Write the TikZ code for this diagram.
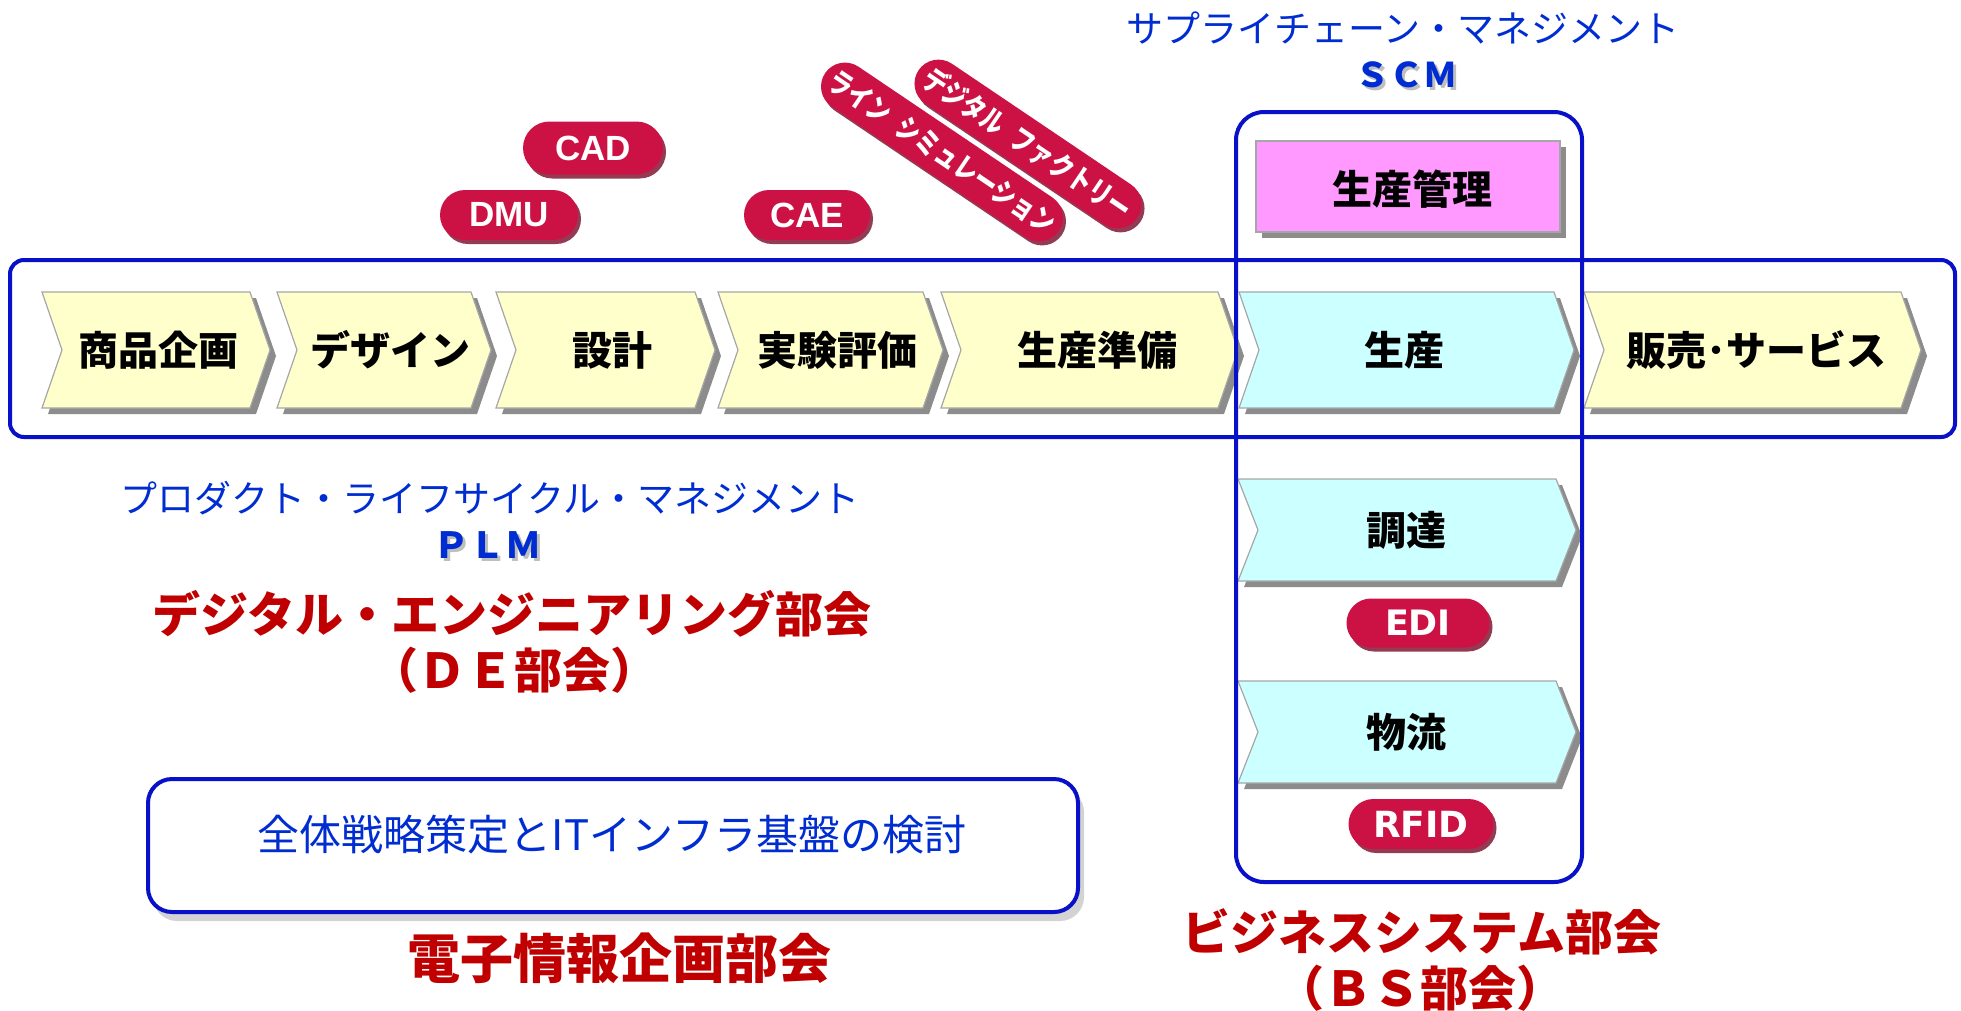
\documentclass[tikz,border=0pt]{standalone}
\usepackage{fontspec}
\usetikzlibrary{shapes.misc}
\newfontfamily\jp{Noto Sans CJK JP}
\newfontfamily\jpn[FakeStretch=0.8]{Noto Sans CJK JP}
\newfontfamily\lat{Liberation Sans}
\newfontfamily\dv{DejaVu Sans}
\definecolor{chevy}{HTML}{FFFFCC}
\definecolor{chevc}{HTML}{CCFFFF}
\definecolor{pinkbox}{HTML}{FF99FF}
\definecolor{frameblue}{RGB}{8,16,200}
\definecolor{txtblue}{RGB}{0,45,210}
\definecolor{hdrred}{RGB}{192,0,0}
\definecolor{pillred}{RGB}{204,18,68}
\definecolor{pillshade}{RGB}{120,10,40}
\newcommand\fs[1]{\fontsize{#1}{#1}\selectfont}
\tikzset{
 chevbox/.style={draw=gray!70, line width=1.2pt},
 chevshadow/.style={fill=gray!90},
 chevtext/.style={font=\jp\bfseries\fs{40}, inner sep=0pt},
 frame/.style={draw=frameblue, line width=4pt},
 pillbody/.style={rounded rectangle, fill=pillred, text=white, inner sep=0pt},
 pillshadow/.style={rounded rectangle, fill=pillshade, inner sep=0pt, opacity=0.8},
 bluetxt/.style={text=txtblue, inner sep=0pt, font=\jp\fs{37}},
 redtxt/.style={text=hdrred, inner sep=0pt, font=\jp\bfseries\fs{48}},
}
\newcommand\mychev[8]{%
 \pgfmathsetmacro\cym{(#4+#5)/2}%
 \pgfmathsetmacro\cxa{#2+20}%
 \pgfmathsetmacro\cxb{#3+20}%
 \fill[chevshadow, shift={(6,6)}] (#2,#4) -- (#3,#4) -- (\cxb,\cym) -- (#3,#5) -- (#2,#5) -- (\cxa,\cym) -- cycle;
 \filldraw[chevbox, fill=#6] (#2,#4) -- (#3,#4) -- (\cxb,\cym) -- (#3,#5) -- (#2,#5) -- (\cxa,\cym) -- cycle;
 \node[chevtext] (#1) at (#7,\cym) {#8};
}
\newcommand\mypill[8]{%
 \node[pillshadow, minimum width=#4pt, minimum height=#5pt, rotate=#6] at (#2+3,#3+4) {};
 \node[pillbody, minimum width=#4pt, minimum height=#5pt, rotate=#6, font=#7] (#1) at (#2,#3) {#8};
}
\begin{document}
\begin{tikzpicture}[x=1pt,y=-1pt]
\useasboundingbox (0,0) rectangle (1961,1010);
% chevron row
\mychev{c1}{42}{250}{292}{408}{chevy}{158}{商品企画}
\mychev{c2}{277}{471}{292}{408}{chevy}{390}{デザイン}
\mychev{c3}{496}{695}{292}{408}{chevy}{612}{設計}
\mychev{c4}{718}{923}{292}{408}{chevy}{837}{実験評価}
\mychev{c5}{941}{1218}{292}{408}{chevy}{1097}{生産準備}
\mychev{c6}{1239}{1554}{292}{408}{chevc}{1404}{生産}
\mychev{c7}{1584}{1901}{292}{408}{chevy}{1756}{販売･サービス}
\mychev{c8}{1238}{1556}{479}{581}{chevc}{1406}{調達}
\mychev{c9}{1238}{1556}{681}{783}{chevc}{1406}{物流}
% production management box
\fill[chevshadow] (1262,147) rectangle (1566,238);
\filldraw[chevbox, fill=pinkbox] (1256,141) rectangle (1560,232);
\node[chevtext] (kanri) at (1412,189) {生産管理};
% frames
\draw[frame, rounded corners=14pt] (10,260) rectangle (1955,437);
\draw[frame, rounded corners=28pt] (1236,112) rectangle (1582,882);
% pills
\mypill{cad}{593}{148}{140}{53}{0}{\lat\bfseries\fs{35}}{CAD}
\mypill{dmu}{509}{215}{138}{50}{0}{\lat\bfseries\fs{35}}{DMU}
\mypill{cae}{807}{215}{126}{50}{0}{\lat\bfseries\fs{35}}{CAE}
\mypill{edi}{1418}{623}{143}{49}{0}{\dv\bfseries\fs{35}}{EDI}
\mypill{rfid}{1421}{824}{145}{50}{0}{\dv\bfseries\fs{36}}{RFID}
\mypill{linesim}{942}{152}{282}{48}{-34}{\jpn\bfseries\fs{29}}{ライン\hspace{0.45em}シミュレーション}
\mypill{dfact}{1028}{144}{264}{48}{-34}{\jpn\bfseries\fs{29}}{デジタル\hspace{0.45em}ファクトリー}
% SCM labels
\node[bluetxt] (scmj) at (1403,28) {サプライチェーン・マネジメント};
\node[text=gray!50, inner sep=0pt, font=\jp\bfseries\fs{34}] at (1409,78) {ＳＣＭ};
\node[bluetxt, font=\jp\bfseries\fs{34}] (scm) at (1406,75) {ＳＣＭ};
% PLM labels
\node[bluetxt] (plmj) at (490,498) {プロダクト・ライフサイクル・マネジメント};
\node[text=gray!50, inner sep=0pt, font=\jp\bfseries\fs{36}] at (490,548) {ＰＬＭ};
\node[bluetxt, font=\jp\bfseries\fs{36}] (plm) at (487,545) {ＰＬＭ};
% DE
\node[redtxt] (de1) at (512,614) {デジタル・エンジニアリング部会};
\node[redtxt] (de2) at (514,670) {（ＤＥ部会）};
% BS
\node[redtxt] (bs1) at (1422,932) {ビジネスシステム部会};
\node[redtxt] (bs2) at (1420,988) {（ＢＳ部会）};
% infra box
\fill[gray, opacity=0.35, rounded corners=24pt] (153,788) rectangle (1084,921);
\node[frame, fill=white, rounded corners=24pt, minimum width=930pt, minimum height=133pt, inner sep=0pt] (infra) at (613,845.5) {};
\node[bluetxt, font=\jp\fs{42}] (infratxt) at (612,835) {全体戦略策定とITインフラ基盤の検討};
\node[redtxt, font=\jp\bfseries\fs{53}] (denshi) at (619,958) {電子情報企画部会};
\end{tikzpicture}
\end{document}
